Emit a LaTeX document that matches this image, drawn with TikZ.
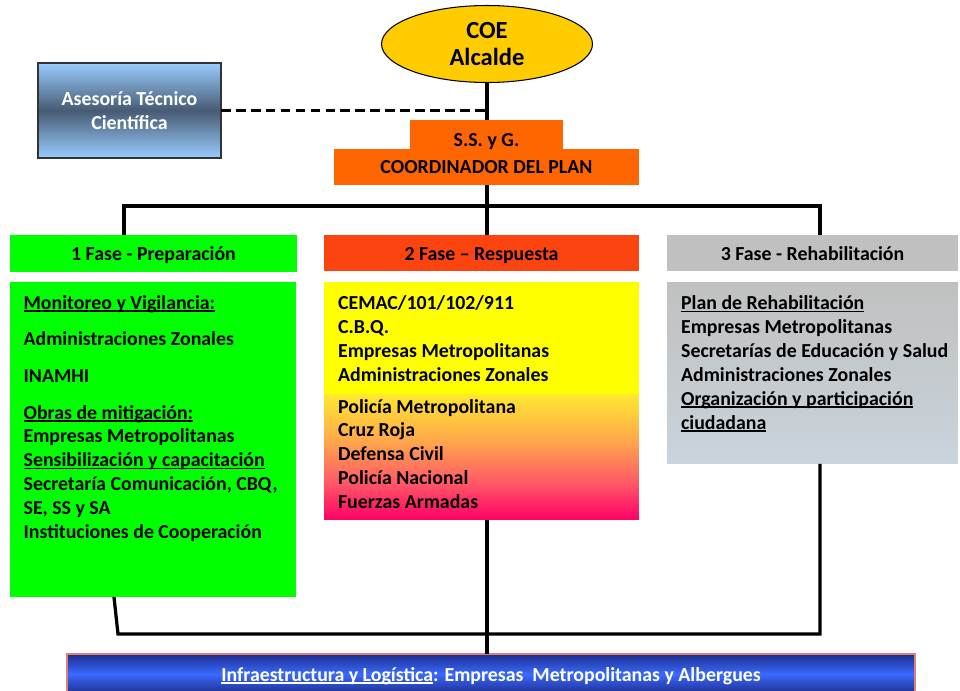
\documentclass[tikz,border=0pt]{standalone}
\usepackage{fontspec}
\setmainfont{Carlito}
\usetikzlibrary{shapes.geometric}

\definecolor{coe}{HTML}{FFCC00}
\definecolor{ssg}{HTML}{FF6600}
\definecolor{asblue}{HTML}{99CCFF}
\definecolor{asdark}{HTML}{475B73}
\definecolor{fgreen}{HTML}{00FF00}
\definecolor{fred}{HTML}{FC4411}
\definecolor{fgray}{HTML}{C0C0C0}
\definecolor{fgrayb}{HTML}{C9D4DC}
\definecolor{rpink}{HTML}{FF0066}
\definecolor{rsalmon}{HTML}{FF5A66}
\definecolor{rorange}{HTML}{FFAA4A}
\definecolor{rlight}{HTML}{FFE830}
\definecolor{rylw}{HTML}{FFFF00}
\definecolor{ldark}{HTML}{1C2C8C}
\definecolor{lblue}{HTML}{3A6AFF}
\definecolor{lborder}{HTML}{E08070}

\pgfdeclareverticalshading{respuesta}{100bp}{color(0bp)=(rpink); color(25bp)=(rpink);
  color(33bp)=(rsalmon); color(42bp)=(rorange); color(51.4bp)=(rlight);
  color(51.8bp)=(rylw); color(100bp)=(rylw)}

\newcommand{\undl}[1]{\setbox0\hbox{#1}\rlap{\rule[-1.5pt]{\wd0}{0.8pt}}\box0}

\begin{document}
\begin{tikzpicture}[x=0.02cm,y=-0.02cm,line width=1.85pt,
  every node/.style={font=\bfseries\fontsize{11.3}{13.6}\selectfont},
  box/.style={inner sep=0pt,outer sep=0pt},
  head/.style={box,text height=9pt,text depth=1pt},
  list/.style={inner sep=0pt,anchor=north west,align=left}]
  \useasboundingbox (0,0) rectangle (960,690);

  \node[ellipse,draw,line width=0.6pt,fill=coe,minimum width=4.22cm,minimum height=1.54cm,
    inner sep=0pt,align=center,font=\bfseries\fontsize{14}{15.3}\selectfont] (E) at (487,44) {COE\\Alcalde};
  \node[box,draw=black!80,line width=0.8pt,top color=asblue,bottom color=asblue,middle color=asdark,
    minimum width=3.66cm,minimum height=1.9cm,text=white,align=center] (A) at (129.5,110.5) {Asesoría Técnico\\Científica};
  \node[box,fill=ssg,minimum width=6.1cm,minimum height=0.72cm] (C) at (486.5,167) {COORDINADOR DEL PLAN};
  \node[box,fill=ssg,minimum width=3.06cm,minimum height=0.6cm,text height=13pt,text depth=0pt] (S) at (486.5,135) {S.S. y G.};

  \node[head,fill=fgreen,minimum width=5.74cm,minimum height=0.74cm] (H1) at (153.5,253.5) {1 Fase - Preparación};
  \node[head,fill=fred,minimum width=6.3cm,minimum height=0.72cm] (H2) at (481.5,253) {2 Fase -- Respuesta};
  \node[head,fill=fgray,minimum width=5.82cm,minimum height=0.72cm] (H3) at (812.5,253) {3 Fase - Rehabilitación};

  \node[box,fill=fgreen,anchor=north west,minimum width=5.72cm,minimum height=6.3cm] (B1) at (10,282) {};
  \node[box,shading=respuesta,anchor=north west,minimum width=6.3cm,minimum height=4.76cm] (B2) at (324,282) {};
  \node[box,top color=fgray,bottom color=fgrayb,anchor=north west,minimum width=5.82cm,minimum height=3.64cm] (B3) at (667,282) {};

  \node[list] (P1) at (22,293.5) {\undl{Monitoreo y Vigilancia:}\\[7.4pt]
    Administraciones Zonales\\[7.4pt]
    INAMHI\\[7pt]
    \undl{Obras de mitigación:}\\
    Empresas Metropolitanas\\
    \undl{Sensibilización y capacitación}\\
    Secretaría Comunicación, CBQ,\\
    SE, SS y SA\\
    Instituciones de Cooperación};
  \node[list] (P2) at (336.5,294) {CEMAC/101/102/911\\
    C.B.Q.\\
    Empresas Metropolitanas\\
    Administraciones Zonales\\[4.5pt]
    Policía Metropolitana\\
    Cruz Roja\\
    Defensa Civil\\
    Policía Nacional\\
    Fuerzas Armadas};
  \node[list] (P3) at (679.5,294) {\undl{Plan de Rehabilitación}\\
    Empresas Metropolitanas\\
    Secretarías de Educación y Salud\\
    Administraciones Zonales\\
    \undl{Organización y participación}\\
    \undl{ciudadana}};

  \node[box,draw=lborder,line width=1pt,top color=ldark,bottom color=ldark,middle color=lblue,
    minimum width=16.96cm,minimum height=0.8cm,text=white,text height=9pt,text depth=1pt] (L) at (491,674)
    {\undl{Infraestructura y Logística}: Empresas\ \ Metropolitanas y Albergues};

  \coordinate (T) at (487,206);
  \coordinate (T1) at (124,206);
  \coordinate (T3) at (820,206);
  \coordinate (U1) at (118,634);
  \coordinate (U3) at (820,634);

  \draw (E.south) -- (E.south |- S.north);
  \draw[line width=1.3pt,dash pattern=on 5.5pt off 3pt] (A.east) -- (A.east -| E.south);
  \draw (C.south -| T) -- (T |- H2.north);
  \draw (T1 |- H1.north) -- (T1) -- (T3) -- (T3 |- H3.north);
  \draw ([xshift=2.08cm]B1.south west) -- (U1) -- (U3) -- (U3 |- B3.south);
  \draw (B2.south -| T) -- (T |- L.north);
\end{tikzpicture}
\end{document}
